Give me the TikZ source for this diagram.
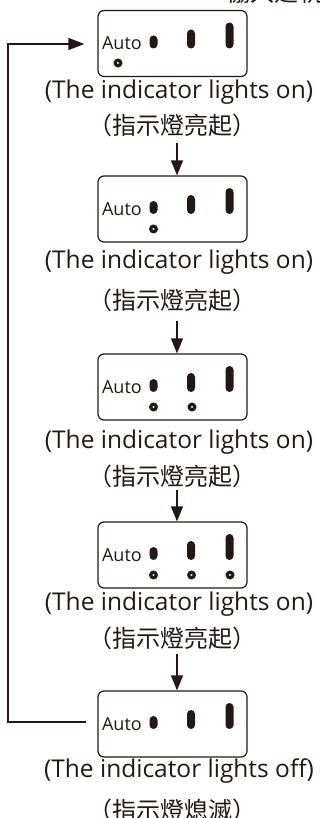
\documentclass[tikz,border=0pt]{standalone}
\usepackage{fontspec}
\setmainfont{Open Sans}
\newfontfamily\cjk{Noto Sans CJK TC}
\usetikzlibrary{arrows.meta}
\definecolor{ink}{RGB}{35,24,21}
\begin{document}
\begin{tikzpicture}[x=1pt,y=-1pt,
  panel/.style={draw=ink, line width=1.2pt, rounded corners=6pt, minimum width=149pt, minimum height=66pt, inner sep=0pt},
  en/.style={font=\fontsize{24.5}{27}\selectfont, text=ink, inner sep=0pt},
  zh/.style={font=\cjk\fontsize{24}{27}\selectfont, text=ink, inner sep=0pt},
  autolbl/.style={font=\fontsize{18}{20}\selectfont, text=ink, inner sep=0pt, anchor=west},
  arr/.style={draw=ink, line width=1.3pt, -{Triangle[length=15pt,width=12pt]}},
  pill/.style={fill=ink, rounded corners=4pt},
  lamps/.pic={
    \fill[pill] (-23,5) rectangle (-15,-8);
    \fill[pill] (14.5,5) rectangle (22.5,-14);
    \fill[pill] (53,5) rectangle (61,-21);
  },
  ring/.pic={\draw[ink, line width=3.2pt] (0,0) circle (2.8pt);}
]
\useasboundingbox (0,0) rectangle (320,818);

% cut-off caption at the top
\node[zh, anchor=south west] (top) at (226,4) {協入建軌};

% panels
\node[panel] (b1) at (172.5,43.5) {};
\node[panel] (b2) at (172.5,209) {};
\node[panel] (b3) at (172.5,387) {};
\node[panel] (b4) at (172.5,555) {};
\node[panel] (b5) at (172.5,724) {};

\foreach \b in {b1,b2,b3,b4,b5}{
  \node[autolbl] (auto-\b) at ([xshift=4.5pt]\b.west) {Auto};
  \pic at (\b.center) {lamps};
}

% rings
\pic at (118,63) {ring};
\pic at (153.5,229) {ring};
\pic at (153.5,407) {ring};
\pic at (192,407) {ring};
\pic at (153.5,575) {ring};
\pic at (191.5,575) {ring};
\pic at (230,575) {ring};

% captions
\node[en] (e1) at (179,92) {(The indicator lights on)};
\node[zh] (z1) at (172,125) {（指示燈亮起）};
\node[en] (e2) at (179,262) {(The indicator lights on)};
\node[zh] (z2) at (172,300) {（指示燈亮起）};
\node[en] (e3) at (179,442) {(The indicator lights on)};
\node[zh] (z3) at (172,476) {（指示燈亮起）};
\node[en] (e4) at (179,604) {(The indicator lights on)};
\node[zh] (z4) at (172,638) {（指示燈亮起）};
\node[en] (e5) at (179,771) {(The indicator lights off)};
\node[zh] (z5) at (172,810) {（指示燈熄滅）};

% down arrows
\coordinate (ax) at (177,0);
\draw[arr] ([yshift=-6pt]z1.south -| ax) -- (b2.north -| ax);
\draw[arr] ([yshift=-9pt]z2.south -| ax) -- (b3.north -| ax);
\draw[arr] ([yshift=-2pt]z3.south -| ax) -- (b4.north -| ax);
\draw[arr] ([yshift=-4pt]z4.south -| ax) -- (b5.north -| ax);

% loop back
\coordinate (ls) at ([xshift=-11pt,yshift=2pt]b5.west);
\coordinate (lc) at (8,44);
\coordinate (le) at ([xshift=-13pt,yshift=-0.5pt]b1.west);
\draw[arr, -{Triangle[length=16pt,width=12pt]}] (ls) -| (lc) |- (le);
\end{tikzpicture}
\end{document}
